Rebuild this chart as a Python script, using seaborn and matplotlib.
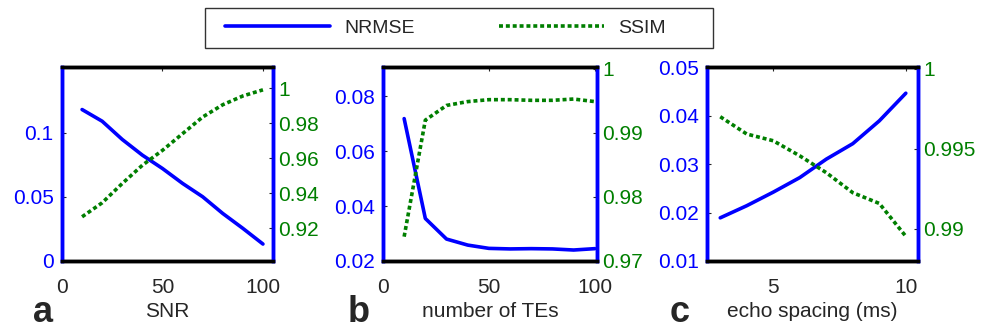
import pandas as pd
import matplotlib
matplotlib.use('Agg')
import matplotlib.pyplot as plt
import seaborn as sns
from matplotlib.lines import Line2D
from matplotlib.patches import Rectangle

# ---- data ----
snr = [10, 20, 30, 40, 50, 60, 70, 80, 90, 100]
snr_nrmse = [0.1179, 0.1088, 0.0946, 0.0824, 0.0720, 0.0604, 0.0500, 0.0370, 0.0254, 0.0132]
snr_ssim = [0.9266, 0.9346, 0.9456, 0.9560, 0.9645, 0.9740, 0.9835, 0.9905, 0.9955, 0.9990]

n_te = [10, 20, 30, 40, 50, 60, 70, 80, 90, 100]
te_nrmse = [0.0719, 0.0355, 0.0280, 0.0258, 0.0246, 0.0244, 0.0245, 0.0244, 0.0240, 0.0245]
te_ssim = [0.9738, 0.9920, 0.9943, 0.9949, 0.9952, 0.9952, 0.9951, 0.9951, 0.9953, 0.9949]

esp = [3, 4, 5, 6, 7, 8, 9, 10]
esp_nrmse = [0.0189, 0.0214, 0.0242, 0.0272, 0.0310, 0.0342, 0.0389, 0.0446]
esp_ssim = [0.99700, 0.99592, 0.99550, 0.99456, 0.99351, 0.99226, 0.99159, 0.98954]

BLUE = '#0000FF'
GREEN = '#007F00'
DOT = (0, (1.1, 0.8))
FS = 15

sns.set_style("white")
plt.rcParams['font.family'] = ['Liberation Sans', 'DejaVu Sans']
plt.rcParams['font.size'] = FS

fig = plt.figure(figsize=(9.87, 3.31), dpi=100)

panels = [
    dict(x=snr, n=snr_nrmse, s=snr_ssim, xlabel='SNR', tag='a', tag_x=0.033, left=0.0628, width=0.2138,
         xlim=(0, 105), xticks=[0, 50, 100],
         ylim=(0, 0.151), yticks=[0, 0.05, 0.1], yfmt=['0', '0.05', '0.1'],
         y2lim=(0.9014, 1.012), y2ticks=[0.92, 0.94, 0.96, 0.98, 1.0], y2fmt=['0.92', '0.94', '0.96', '0.98', '1']),
    dict(x=n_te, n=te_nrmse, s=te_ssim, xlabel='number of TEs', tag='b', tag_x=0.352, left=0.388, width=0.2168,
         xlim=(0, 101), xticks=[0, 50, 100],
         ylim=(0.02, 0.0907), yticks=[0.02, 0.04, 0.06, 0.08], yfmt=['0.02', '0.04', '0.06', '0.08'],
         y2lim=(0.97, 1.0003), y2ticks=[0.97, 0.98, 0.99, 1.0], y2fmt=['0.97', '0.98', '0.99', '1']),
    dict(x=esp, n=esp_nrmse, s=esp_ssim, xlabel='echo spacing (ms)', tag='c', tag_x=0.678, left=0.7163, width=0.2138,
         xlim=(2.5, 10.46), xticks=[5, 10],
         ylim=(0.01, 0.05), yticks=[0.01, 0.02, 0.03, 0.04, 0.05], yfmt=['0.01', '0.02', '0.03', '0.04', '0.05'],
         y2lim=(0.988, 1.0001), y2ticks=[0.99, 0.995, 1.0], y2fmt=['0.99', '0.995', '1']),
]

for p in panels:
    ax = fig.add_axes([p['left'], 0.2115, p['width'], 0.586])
    ax2 = ax.twinx()
    df = pd.DataFrame({'x': p['x'], 'nrmse': p['n'], 'ssim': p['s']})
    sns.lineplot(data=df, x='x', y='nrmse', ax=ax, color=BLUE, linewidth=2.6)
    sns.lineplot(data=df, x='x', y='ssim', ax=ax2, color=GREEN, linewidth=2.6, linestyle=DOT)

    ax.set_xlim(p['xlim'])
    ax.set_xticks(p['xticks'])
    ax.set_xticklabels([str(t) for t in p['xticks']])
    ax.set_ylim(p['ylim'])
    ax.set_yticks(p['yticks'])
    ax.set_yticklabels(p['yfmt'], color=BLUE)
    ax2.set_ylim(p['y2lim'])
    ax2.set_yticks(p['y2ticks'])
    ax2.set_yticklabels(p['y2fmt'], color=GREEN)

    ax.set_xlabel(p['xlabel'], fontsize=FS, labelpad=4)
    ax.set_ylabel('')
    ax2.set_ylabel('')

    for a in (ax, ax2):
        for side in ('top', 'bottom'):
            a.spines[side].set_color('black')
            a.spines[side].set_linewidth(2.5)
        for side in ('left', 'right'):
            a.spines[side].set_color(BLUE)
            a.spines[side].set_linewidth(2.5)
    ax.tick_params(axis='x', direction='in', length=3, width=0.8, top=True, pad=12, labelsize=FS)
    ax.tick_params(axis='y', direction='in', length=3, width=0.8, pad=6, labelsize=FS)
    ax2.tick_params(axis='y', direction='in', length=3, width=0.8, pad=4, labelsize=FS)

    fig.text(p['tag_x'], 0.027, p['tag'], fontsize=26, fontweight='bold', ha='left', va='baseline')

# legend box drawn as a plain rectangle, entries placed inside it
fig.patches.append(Rectangle((205 / 987, 1 - 48 / 331), 508 / 987, 40 / 331, transform=fig.transFigure,
                             facecolor='white', edgecolor='#333333', linewidth=1.0, zorder=0))
handles = [Line2D([], [], color=BLUE, linewidth=2.6),
           Line2D([], [], color=GREEN, linewidth=2.6, linestyle=DOT)]
fig.legend(handles, ['NRMSE', 'SSIM'], loc='center left', ncol=2,
           bbox_to_anchor=(225 / 987, 1 - 28 / 331), frameon=False,
           fontsize=14, handlelength=5.4, handletextpad=0.75, columnspacing=4.3,
           borderpad=0, borderaxespad=0)

fig.savefig('out.png', dpi=100)
